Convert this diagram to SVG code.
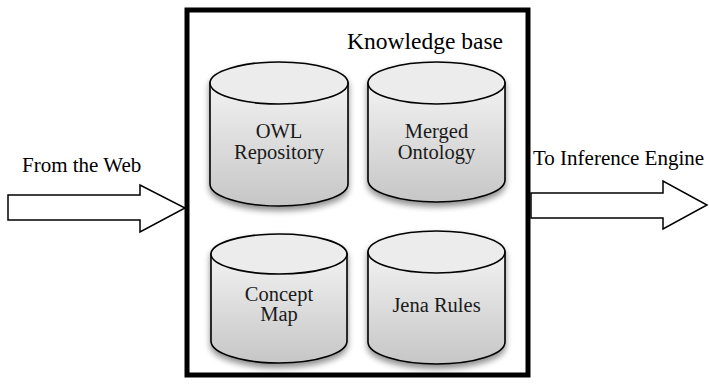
<svg xmlns="http://www.w3.org/2000/svg" width="709" height="385" viewBox="0 0 709 385">
<style>
.t{font-family:"Liberation Serif","Times New Roman",serif;fill:#000}
.ct{font-family:"Liberation Serif","Times New Roman",serif;font-size:20.5px;fill:#1a1a1a;text-anchor:middle}
.cyl{fill:url(#g);stroke:#000;stroke-width:1.6}
.top{fill:#ececec;stroke:#000;stroke-width:1.6}
.arr{fill:#fff;stroke:#000;stroke-width:1.5;stroke-linejoin:miter}
</style>
<defs>
<linearGradient id="g" x1="0" y1="0" x2="0" y2="1">
<stop offset="0" stop-color="#f2f2f2"/>
<stop offset="1" stop-color="#c6c6c6"/>
</linearGradient>
<filter id="sh" x="-20%" y="-20%" width="140%" height="150%">
<feGaussianBlur in="SourceAlpha" stdDeviation="3"/>
<feOffset dx="0" dy="4" result="b"/>
<feComponentTransfer><feFuncA type="linear" slope="0.45"/></feComponentTransfer>
<feMerge><feMergeNode/><feMergeNode in="SourceGraphic"/></feMerge>
</filter>
</defs>
<rect width="709" height="385" fill="#fff"/>
<g id="kb">
<rect x="187" y="10" width="341" height="365" fill="#fff" stroke="#000" stroke-width="5"/>
<text class="t" x="347" y="49" font-size="23.5" font-family="Liberation Serif, serif">Knowledge base</text>
</g>
<g id="connectors">
<polygon class="arr" points="8,195 140,195 140,185 185,208 140,232 140,220 8,220"/>
<polygon class="arr" points="531,193 663,193 663,181 707,205 663,229 663,218 531,218"/>
<text class="t" x="22" y="172" font-size="21" font-family="Liberation Serif, serif">From the Web</text>
<text class="t" x="533" y="165" font-size="21" font-family="Liberation Serif, serif">To Inference Engine</text>
</g>
<g id="owl">
<g filter="url(#sh)">
<path class="cyl" d="M210,83 L210,184 A69,22 0 0 0 348,184 L348,83 Z"/>
<ellipse class="top" cx="279" cy="83" rx="69" ry="21"/>
</g>
<text class="ct" x="279" y="138" font-family="Liberation Serif, serif">OWL</text>
<text class="ct" x="279" y="159" font-family="Liberation Serif, serif">Repository</text>
</g>
<g id="merged">
<g filter="url(#sh)">
<path class="cyl" d="M368,83 L368,180 A68.5,22 0 0 0 505,180 L505,83 Z"/>
<ellipse class="top" cx="436.5" cy="83" rx="68.5" ry="21"/>
</g>
<text class="ct" x="436.5" y="138" font-family="Liberation Serif, serif">Merged</text>
<text class="ct" x="436.5" y="159" font-family="Liberation Serif, serif">Ontology</text>
</g>
<g id="concept">
<g filter="url(#sh)">
<path class="cyl" d="M211,254 L211,341 A68,22 0 0 0 347,341 L347,254 Z"/>
<ellipse class="top" cx="279" cy="254" rx="68" ry="20"/>
</g>
<text class="ct" x="279" y="301" font-family="Liberation Serif, serif">Concept</text>
<text class="ct" x="279" y="321" font-family="Liberation Serif, serif">Map</text>
</g>
<g id="jena">
<g filter="url(#sh)">
<path class="cyl" d="M368,252 L368,342 A68.5,22 0 0 0 505,342 L505,252 Z"/>
<ellipse class="top" cx="436.5" cy="252" rx="68.5" ry="21"/>
</g>
<text class="ct" x="436.5" y="312" font-family="Liberation Serif, serif">Jena Rules</text>
</g>
</svg>
